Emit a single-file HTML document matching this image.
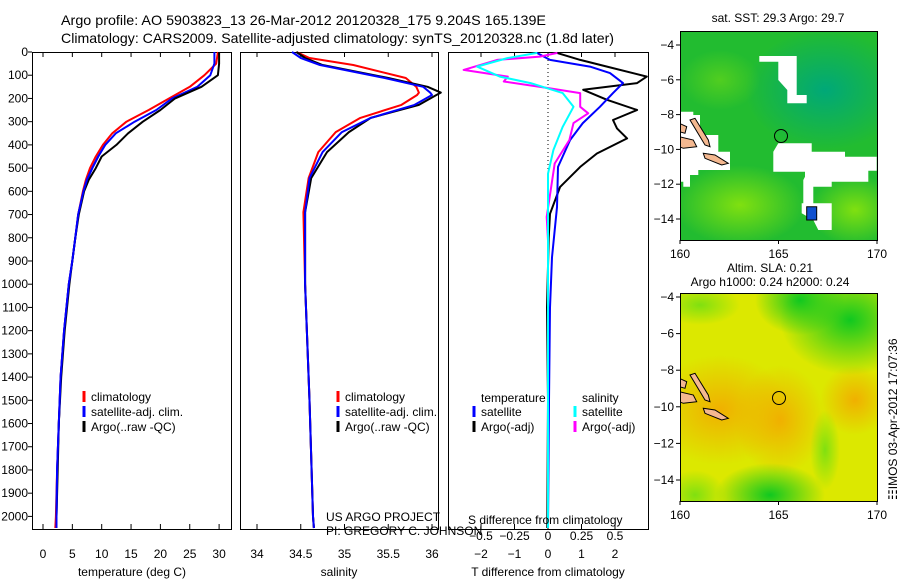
<!DOCTYPE html>
<html><head><meta charset="utf-8"><style>
html,body{margin:0;padding:0;background:#fff;}
svg{display:block;font-family:"Liberation Sans",sans-serif;}
text{font-size:12px;fill:#000;}
</style></head><body>
<svg id="fig" width="900" height="580" viewBox="0 0 900 580" xmlns="http://www.w3.org/2000/svg">
<text x="61" y="25" style="font-size:14px" textLength="485" lengthAdjust="spacingAndGlyphs">Argo profile: AO 5903823_13 26-Mar-2012 20120328_175 9.204S 165.139E</text>
<text x="61" y="43" style="font-size:14px" textLength="553" lengthAdjust="spacingAndGlyphs">Climatology: CARS2009. Satellite-adjusted climatology: synTS_20120328.nc (1.8d later)</text>
<g id="p1"></g>
<g id="p2"></g>
<g id="p3"></g>
<g id="maps"></g>
<text transform="translate(897,500) rotate(-90)" style="font-size:12px">&#9783;IMOS 03-Apr-2012 17:07:36</text>
</svg>
<script>
// ---------- data ----------
const tempDepth = [0,50,100,150,200,250,300,350,400,450,500,550,600,700,800,900,1000,1200,1400,1600,1800,2000,2050];
const tempClim  = [29.8,29.5,27.5,25,21.5,18,14.2,11.8,10.2,9,8,7.3,6.8,6,5.5,5,4.4,3.6,3.0,2.7,2.4,2.2,2.1];
const tempSat   = [29.2,29.2,28.5,26.3,22,19.3,15.6,12.4,10.6,9.4,8.4,7.5,6.9,6,5.5,5,4.4,3.6,3.0,2.7,2.4,2.3,2.3];
const tempArgo  = [30,30,29.8,27,22.5,20,17,14.5,12.5,10,9,7.8,7,6.1,5.5,5,4.5,3.7,3.1,2.7,2.5,2.3,2.3];

const salDepth = [0,26,56,112,150,175,185,228,284,345,431,543,690,1000,1500,2000,2050];
const salClim  = [34.45,34.6,35.1,35.7,35.82,35.85,35.83,35.65,35.18,34.9,34.7,34.59,34.53,34.55,34.6,34.64,34.65];
const salSat   = [34.4,34.5,34.72,35.46,35.9,35.98,36.0,35.8,35.3,34.97,34.75,34.6,34.55,34.55,34.6,34.64,34.65];
const salArgo  = [34.45,34.55,34.75,35.5,35.95,36.1,36.05,35.85,35.3,35.05,34.8,34.62,34.55,34.55,34.6,34.64,34.65];

const dTDepthSat = [4,34,63,91,134,177,236,306,379,495,668,884,1100,1500,2050];
const dTSat      = [-0.33,0.06,1.25,1.85,2.24,1.94,1.55,1.04,0.66,0.3,0.27,0.12,0.06,0.03,0.0];
const dTDepthArgo = [4,34,63,106,134,163,206,250,293,329,372,437,495,581,697,800,1100,1500,2050];
const dTArgo      = [0.27,0.96,1.76,2.95,2.66,1.05,1.76,2.66,1.94,2.06,2.36,1.46,0.96,0.36,0.06,0.02,-0.03,0.0,-0.02];
const dSDepthSat = [4,26,63,106,134,177,236,322,422,524,800,1500,2050];
const dSSat      = [-0.08,-0.3,-0.53,-0.36,-0.13,0.11,0.19,0.11,0.04,0.0,0.0,0.0,0.0];
const dSDepthArgo = [4,20,34,77,106,127,156,177,236,264,306,379,480,595,710,812,1500,2050];
const dSArgo      = [0.07,-0.06,-0.38,-0.63,-0.3,-0.33,0.01,0.24,0.24,0.3,0.19,0.16,0.05,0.02,-0.01,0,0,0];

const depthTicks = [0,100,200,300,400,500,600,700,800,900,1000,1100,1200,1300,1400,1500,1600,1700,1800,1900,2000];
const tempTicks = [0,5,10,15,20,25,30];
const salTicks = [34,34.5,35,35.5,36];
const salTickLabels = ["34","34.5","35","35.5","36"];
const dTTicks = [-2,-1,0,1,2];
const dSTicks = [-0.5,-0.25,0,0.25,0.5];
const dSTickLabels = ["\u22120.5","\u22120.25","0","0.25","0.5"];

// ---------- helpers ----------
const NS = "http://www.w3.org/2000/svg";
function mk(tag, attrs, parent){const e=document.createElementNS(NS,tag);for(const k in attrs)e.setAttribute(k,attrs[k]);parent.appendChild(e);return e;}
const yD = d => 52 + d*0.2322;
const xT = t => 43 + t*5.87;
const xS = s => 257 + (s-34)*87.5;
const xdT = t => 548 + t*33.5;
const xdS = s => 548 + s*134;
const TOP=52, BOT=529;

function frame(g,x0,x1,name){
  const r=mk('rect',{x:x0+0.5,y:TOP+0.5,width:x1-x0,height:BOT-TOP,fill:'none',stroke:'#000','stroke-width':1},g);
  
  
}
function line(g,xs,ys,fx,color,name){
  const pts=xs.map((v,i)=>fx(v).toFixed(1)+','+yD(ys[i]).toFixed(1)).join(' ');
  const p=mk('polyline',{points:pts,fill:'none',stroke:color,'stroke-width':2,'stroke-linejoin':'round'},g);
  
  
}
function xticks(g,ticks,labels,fx,ly,name){
  ticks.forEach((t,i)=>{
    const x=fx(t);
    mk('line',{x1:x,y1:TOP,x2:x,y2:TOP+5,stroke:'#000'},g);
    mk('line',{x1:x,y1:BOT,x2:x,y2:BOT-5,stroke:'#000'},g);
    if(ly){const tx=mk('text',{x:x,y:ly,'text-anchor':'middle'},g);tx.textContent=labels[i];
      
      }
  });
}
function legend(g,x,y,color,label,name){
  mk('rect',{x:x-1.5,y:y-6,width:3,height:11,fill:color},g);
  const t=mk('text',{x:x+7,y:y+4},g);t.textContent=label;
  
  
}

// ---------- panel 1 ----------
const p1=document.getElementById('p1');
frame(p1,32,231,'temperature-frame');
depthTicks.forEach(d=>{
  const y=yD(d);
  mk('line',{x1:28,y1:y,x2:32,y2:y,stroke:'#000'},p1);
  const t=mk('text',{x:28,y:y+4,'text-anchor':'end'},p1);t.textContent=d;
  
  
});
xticks(p1,tempTicks,tempTicks.map(String),xT,558,'temperature-tick-label');
line(p1,tempClim,tempDepth,xT,'#f00','temp-climatology');
line(p1,tempSat,tempDepth,xT,'#00f','temp-satellite-adj');
line(p1,tempArgo,tempDepth,xT,'#000','temp-argo');
line(p1,tempSat.slice(8),tempDepth.slice(8),xT,'#00f','temp-satellite-adj-deep');
legend(p1,84,397,'#f00','climatology','legend-climatology');
legend(p1,84,412,'#00f','satellite-adj. clim.','legend-satellite');
legend(p1,84,427,'#000','Argo(..raw -QC)','legend-argo');
let t=mk('text',{x:132,y:576,'text-anchor':'middle'},p1);t.textContent='temperature (deg C)';



// ---------- panel 2 ----------
const p2=document.getElementById('p2');
frame(p2,240,438,'salinity-frame');
xticks(p2,salTicks,salTickLabels,xS,558,'salinity-tick-label');
line(p2,salClim,salDepth,xS,'#f00','sal-climatology');
line(p2,salArgo,salDepth,xS,'#000','sal-argo');
line(p2,salSat,salDepth,xS,'#00f','sal-satellite-adj');
legend(p2,338,397,'#f00','climatology','legend-climatology');
legend(p2,338,412,'#00f','satellite-adj. clim.','legend-satellite');
legend(p2,338,427,'#000','Argo(..raw -QC)','legend-argo');
t=mk('text',{x:326,y:521},p2);t.textContent='US ARGO PROJECT';


t=mk('text',{x:326,y:535},p2);t.textContent='PI: GREGORY C. JOHNSON';


t=mk('text',{x:339,y:576,'text-anchor':'middle'},p2);t.textContent='salinity';



// ---------- panel 3 ----------
const p3=document.getElementById('p3');
frame(p3,448,648,'difference-frame');
mk('line',{x1:548,y1:TOP,x2:548,y2:BOT,stroke:'#000','stroke-dasharray':'1,3'},p3);
xticks(p3,dTTicks,dTTicks.map(v=>v<0?'\u2212'+(-v):String(v)),xdT,558,'t-diff-tick-label');
dSTicks.forEach((s,i)=>{const tx=mk('text',{x:xdS(s),y:540,'text-anchor':'middle'},p3);tx.textContent=dSTickLabels[i];
  
  });
line(p3,dTArgo,dTDepthArgo,xdT,'#000','t-diff-argo');
line(p3,dTSat,dTDepthSat,xdT,'#00f','t-diff-satellite');
line(p3,dSArgo,dSDepthArgo,xdS,'#f0f','s-diff-argo');
line(p3,dSSat,dSDepthSat,xdS,'#0ff','s-diff-satellite');
t=mk('text',{x:481,y:402},p3);t.textContent='temperature';


t=mk('text',{x:582,y:402},p3);t.textContent='salinity';


legend(p3,474,412,'#00f','satellite','legend-t-satellite');
legend(p3,474,427,'#000','Argo(-adj)','legend-t-argo');
legend(p3,575,412,'#0ff','satellite','legend-s-satellite');
legend(p3,575,427,'#f0f','Argo(-adj)','legend-s-argo');
t=mk('text',{x:468,y:524},p3);t.textContent='S difference from climatology';


t=mk('text',{x:548,y:576,'text-anchor':'middle'},p3);t.textContent='T difference from climatology';



// ---------- maps ----------
const mg=document.getElementById('maps');
const defs=mk('defs',{},mg);
function rg(id,stops){const g=mk('radialGradient',{id:id},defs);stops.forEach(s=>mk('stop',{offset:s[0],'stop-color':s[1],'stop-opacity':s[2]},g));}
rg('teal',[[0,'#00a878',1],[1,'#00a878',0]]);
rg('lime',[[0,'#80e010',1],[1,'#80e010',0]]);
rg('orng',[[0,'#f0b000',1],[1,'#f0b000',0]]);
rg('grn',[[0,'#10c820',1],[1,'#10c820',0]]);
const cp1=mk('clipPath',{id:'clipTop'},defs);mk('rect',{x:680,y:31,width:197,height:209},cp1);
const cp2=mk('clipPath',{id:'clipBot'},defs);mk('rect',{x:680,y:293,width:197,height:208},cp2);
const lonTicks=[160,165,170];
function mapAxes(x0,y0,w,h,latTop,latStep,latTicks,name){
  mk('rect',{x:x0+0.5,y:y0+0.5,width:w,height:h,fill:'none',stroke:'#000'},mg);
  latTicks.forEach(l=>{const y=latTop+(-4-l)*latStep;
    mk('line',{x1:x0-4,y1:y,x2:x0,y2:y,stroke:'#000'},mg);
    const tx=mk('text',{x:x0-6,y:y+4,'text-anchor':'end'},mg);tx.textContent='\u2212'+(-l);
    
    });
  lonTicks.forEach(l=>{const x=x0+(l-160)*19.7;
    mk('line',{x1:x,y1:y0+h,x2:x,y2:y0+h+4,stroke:'#000'},mg);
    const tx=mk('text',{x:x,y:y0+h+18,'text-anchor':'middle'},mg);tx.textContent=l;
    
    });
}
function poly(g,pts,fill,ox,oy,name){
  const p=mk('polygon',{points:pts.map(p=>(p[0]/3+ox).toFixed(1)+','+(p[1]/3+oy).toFixed(1)).join(' '),fill:fill,stroke:fill==='#fff'?'none':'#000','stroke-width':1},g);
  
  
}
function islands(g,dy){
  poly(g,[[120,360],[135,355],[175,420],[180,440],[165,435]],'#f4b890',650,dy,'island');
  poly(g,[[88,410],[130,420],[140,440],[100,445],[88,440]],'#f4b890',650,dy,'island');
  poly(g,[[160,460],[195,465],[235,490],[215,495],[165,475]],'#f4b890',650,dy,'island');
  poly(g,[[88,370],[110,380],[105,400],[88,395]],'#f4b890',650,dy,'island');
}
// top map
const gT=mk('g',{'clip-path':'url(#clipTop)'},mg);
const r1=mk('rect',{x:680,y:31,width:197,height:209,fill:'#22bc30'},gT);


mk('ellipse',{cx:825,cy:90,rx:80,ry:60,fill:'url(#teal)'},gT);
mk('ellipse',{cx:740,cy:205,rx:65,ry:40,fill:'url(#lime)'},gT);
mk('ellipse',{cx:855,cy:210,rx:45,ry:35,fill:'url(#lime)'},gT);
mk('ellipse',{cx:720,cy:80,rx:40,ry:30,fill:'url(#lime)','opacity':0.5},gT);
poly(gT,[[328,168],[440,168],[440,285],[470,285],[470,310],[412,310],[412,270],[385,240],[385,185],[328,185]],'#fff',650,0,'missing-data');
poly(gT,[[370,455],[385,430],[485,430],[485,455],[585,455],[585,470],[680,470],[680,512],[655,512],[655,545],[545,545],[545,560],[490,560],[490,620],[460,620],[460,540],[465,530],[465,515],[370,515]],'#fff',650,0,'missing-data');
poly(gT,[[455,610],[545,610],[545,690],[505,690],[490,660],[455,640]],'#fff',650,0,'missing-data');
poly(gT,[[470,620],[500,620],[500,660],[470,660]],'#1050d0',650,0,'cold-patch');
poly(gT,[[88,335],[130,335],[130,345],[150,345],[150,405],[205,405],[205,455],[240,455],[240,510],[145,510],[145,525],[120,525],[120,560],[100,560],[100,545],[88,545]],'#fff',650,0,'missing-data');
islands(gT,0);
mapAxes(680,31,197,209,45,17.4,[-4,-6,-8,-10,-12,-14],'sst-map');
let c=mk('circle',{cx:781,cy:136,r:6.5,fill:'none',stroke:'#000'},mg);


t=mk('text',{x:778,y:22,'text-anchor':'middle'},mg);t.textContent='sat. SST: 29.3 Argo: 29.7';


// bottom map
const gB=mk('g',{'clip-path':'url(#clipBot)'},mg);
const r2=mk('rect',{x:680,y:293,width:197,height:208,fill:'#dce800'},gB);


mk('ellipse',{cx:720,cy:410,rx:70,ry:55,fill:'url(#orng)'},gB);
mk('ellipse',{cx:780,cy:420,rx:45,ry:55,fill:'url(#orng)'},gB);
mk('ellipse',{cx:855,cy:400,rx:35,ry:35,fill:'url(#orng)'},gB);
mk('ellipse',{cx:850,cy:320,rx:70,ry:55,fill:'url(#grn)'},gB);
mk('ellipse',{cx:800,cy:300,rx:45,ry:35,fill:'url(#grn)'},gB);
mk('ellipse',{cx:700,cy:305,rx:40,ry:20,fill:'url(#lime)'},gB);
mk('ellipse',{cx:770,cy:495,rx:55,ry:32,fill:'url(#grn)'},gB);
mk('ellipse',{cx:695,cy:495,rx:30,ry:25,fill:'url(#lime)'},gB);
mk('ellipse',{cx:825,cy:450,rx:15,ry:40,fill:'url(#lime)'},gB);
islands(gB,255);
mapAxes(680,293,197,208,297,18.3,[-4,-6,-8,-10,-12,-14],'sla-map');
c=mk('circle',{cx:779,cy:398,r:6.5,fill:'none',stroke:'#000'},mg);


t=mk('text',{x:770,y:272,'text-anchor':'middle'},mg);t.textContent='Altim. SLA: 0.21';


t=mk('text',{x:770,y:286,'text-anchor':'middle'},mg);t.textContent='Argo h1000: 0.24 h2000: 0.24';


</script>
</body></html>
